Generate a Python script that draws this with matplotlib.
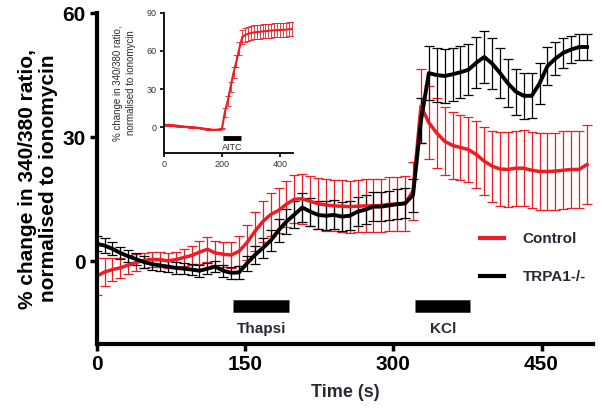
import matplotlib
matplotlib.use("Agg")
import matplotlib.pyplot as plt
from matplotlib.lines import Line2D
import numpy as np

plt.rcParams['font.family'] = ['Liberation Sans', 'DejaVu Sans']

# main trace, sampled every 8 s
time_s = np.arange(0, 497, 8)

control_mean = [-3.6, -2.6, -2.0, -1.6, -0.9, -0.3, 0.2, 0.4, 0.4, 0.1,
                0.4, 0.9, 1.4, 2.2, 2.9, 2.0, 1.7, 1.5, 2.4, 4.5,
                7.2, 9.6, 11.3, 12.3, 13.8, 15.0, 15.1, 14.5, 13.9, 13.6,
                13.4, 13.3, 13.2, 13.3, 13.4, 13.4, 13.5, 13.8, 13.8, 14.0,
                17.0, 37.5, 33.5, 31.0, 29.0, 28.0, 27.5, 27.0, 25.8, 24.2,
                23.0, 22.3, 22.2, 22.5, 22.5, 22.0, 21.7, 21.7, 21.8, 22.0,
                22.2, 22.2, 23.4]
control_err = [4.5, 3.5, 2.8, 2.5, 2.3, 2.0, 1.8, 1.8, 1.8, 1.8,
               1.8, 2.0, 2.4, 2.8, 3.0, 3.0, 3.0, 3.2, 3.6, 4.2,
               4.8, 5.0, 5.2, 5.4, 5.6, 5.8, 6.0, 6.0, 6.2, 6.2,
               6.2, 6.3, 6.3, 6.3, 6.4, 6.4, 6.4, 6.5, 6.5, 6.6,
               7.0, 9.0, 8.8, 8.5, 8.2, 8.0, 7.8, 7.8, 8.0, 8.3,
               8.6, 8.9, 9.0, 9.1, 9.2, 9.2, 9.3, 9.3, 9.3, 9.4,
               9.4, 9.4, 9.5]

trpa1_mean = [4.2, 3.8, 3.0, 2.0, 1.2, 0.5, -0.2, -0.7, -1.0, -1.3,
              -1.6, -1.8, -2.0, -2.3, -1.8, -1.3, -2.3, -2.8, -2.7, -0.5,
              1.5, 3.2, 5.0, 7.5, 9.6, 11.3, 13.0, 12.0, 11.2, 11.0,
              11.2, 10.8, 11.0, 12.0, 12.5, 13.2, 13.2, 13.5, 13.8, 14.0,
              16.0, 34.0, 45.5, 45.0, 44.8, 45.2, 45.7, 46.3, 48.0, 49.4,
              47.8, 45.5, 43.0, 41.0, 40.0, 40.0, 43.0, 47.2, 49.0, 50.4,
              51.2, 51.8, 51.8]
trpa1_err = [1.8, 1.8, 1.6, 1.5, 1.5, 1.4, 1.4, 1.4, 1.4, 1.4,
             1.4, 1.4, 1.4, 1.4, 1.4, 1.4, 1.4, 1.4, 1.5, 1.8,
             2.2, 2.5, 2.6, 2.8, 3.0, 3.2, 3.4, 3.4, 3.4, 3.5,
             3.5, 3.5, 3.5, 3.5, 3.5, 3.5, 3.5, 3.5, 3.6, 3.6,
             4.0, 5.5, 6.5, 6.5, 6.5, 6.4, 6.3, 6.2, 6.2, 6.3,
             6.2, 6.0, 5.8, 5.6, 5.5, 5.4, 5.0, 4.5, 4.0, 3.6,
             3.3, 3.2, 3.2]

# inset: AITC response, every 10 s
inset_time = np.arange(0, 441, 10)
inset_mean = [2.0, 2.0, 2.0, 1.8, 1.6, 1.2, 1.0, 0.7, 0.5, 0.3,
              0.2, 0.0, -0.3, -0.6, -1.0, -1.3, -1.6, -1.8, -1.8, -1.5,
              -1.0, 12.0, 21.0, 32.0, 43.0, 52.0, 62.0, 71.0, 72.5, 73.5,
              74.0, 74.5, 74.8, 75.0, 75.3, 75.5, 75.7, 76.0, 76.2, 76.3,
              76.5, 76.5, 76.7, 77.0, 77.2]
inset_err = [0.5] * 21 + [3.5, 4.0, 4.0, 4.5, 4.5, 5.0, 5.5] + [5.5] * 17

thapsi = (138, 195)
kcl = (322, 378)
aitc = (205, 264)

red = '#ee1c24'
txt = '#2a2a35'

fig = plt.figure(figsize=(6.02, 4.09), dpi=100)
ax = fig.add_axes([0.1606, 0.159, 0.8244, 0.809])

ax.errorbar(time_s, control_mean, yerr=control_err, color=red, lw=2.5,
            elinewidth=0.9, capsize=3.5, capthick=0.9, label='Control')
ax.errorbar(time_s, trpa1_mean, yerr=trpa1_err, color='black', lw=2.8,
            elinewidth=0.9, capsize=3.5, capthick=0.9, label='TRPA1-/-')

ax.plot(thapsi, [-10.7, -10.7], color='black', lw=9, solid_capstyle='butt')
ax.plot(kcl, [-10.7, -10.7], color='black', lw=9, solid_capstyle='butt')
ax.text(np.mean(thapsi), -16.3, 'Thapsi', ha='center', va='center',
        fontsize=11, fontweight='bold', color=txt)
ax.text(np.mean(kcl), -16.3, 'KCl', ha='center', va='center',
        fontsize=11, fontweight='bold', color=txt)

ax.set_xlim(0, 502)
ax.set_ylim(-20, 60)
ax.set_xticks([0, 150, 300, 450])
ax.set_yticks([0, 30, 60])
for s in ['top', 'right']:
    ax.spines[s].set_visible(False)
for s in ['left', 'bottom']:
    ax.spines[s].set_linewidth(3)
ax.tick_params(width=2.5, length=5, labelsize=15, pad=3)
for lab in ax.get_xticklabels() + ax.get_yticklabels():
    lab.set_fontweight('bold')

ax.set_xlabel('Time (s)', fontsize=13, fontweight='bold', color=txt)
ax.xaxis.set_label_coords(0.5, -0.122)
ax.set_ylabel('% change in 340/380 ratio,\nnormalised to ionomycin',
              fontsize=15, fontweight='bold', linespacing=1.15)
ax.yaxis.set_label_coords(-0.078, 0.5)

handles = [Line2D([], [], color=red, lw=3), Line2D([], [], color='black', lw=3)]
ax.legend(handles, ['Control', 'TRPA1-/-'], loc='upper left',
          bbox_to_anchor=(0.772, 0.337), frameon=False, borderpad=0,
          borderaxespad=0, handlelength=1.6, handletextpad=1.2,
          labelspacing=1.55, prop={'size': 11, 'weight': 'bold'},
          labelcolor=txt)

# inset
ins = fig.add_axes([0.2724, 0.626, 0.2143, 0.343])
ins.errorbar(inset_time, inset_mean, yerr=inset_err, color=red, lw=1.5,
             elinewidth=0.6, capsize=2, capthick=0.6)
ins.plot(aitc, [-8.5, -8.5], color='black', lw=3.5, solid_capstyle='butt')
ins.text(np.mean(aitc), -15.5, 'AITC', ha='center', va='center',
         fontsize=6.5, color=txt)
ins.set_xlim(0, 445)
ins.set_ylim(-20, 90)
ins.set_xticks([0, 200, 400])
ins.set_yticks([0, 30, 60, 90])
for s in ['top', 'right']:
    ins.spines[s].set_visible(False)
for s in ['left', 'bottom']:
    ins.spines[s].set_linewidth(1.3)
ins.tick_params(width=1.2, length=3, labelsize=6.5, pad=2, labelcolor='#333333')
ins.set_ylabel('% change in 340/380 ratio,\nnormalised to ionomycin',
               fontsize=7, color=txt, linespacing=1.3)
ins.yaxis.set_label_coords(-0.22, 0.5)

fig.savefig('out.png', dpi=100)
